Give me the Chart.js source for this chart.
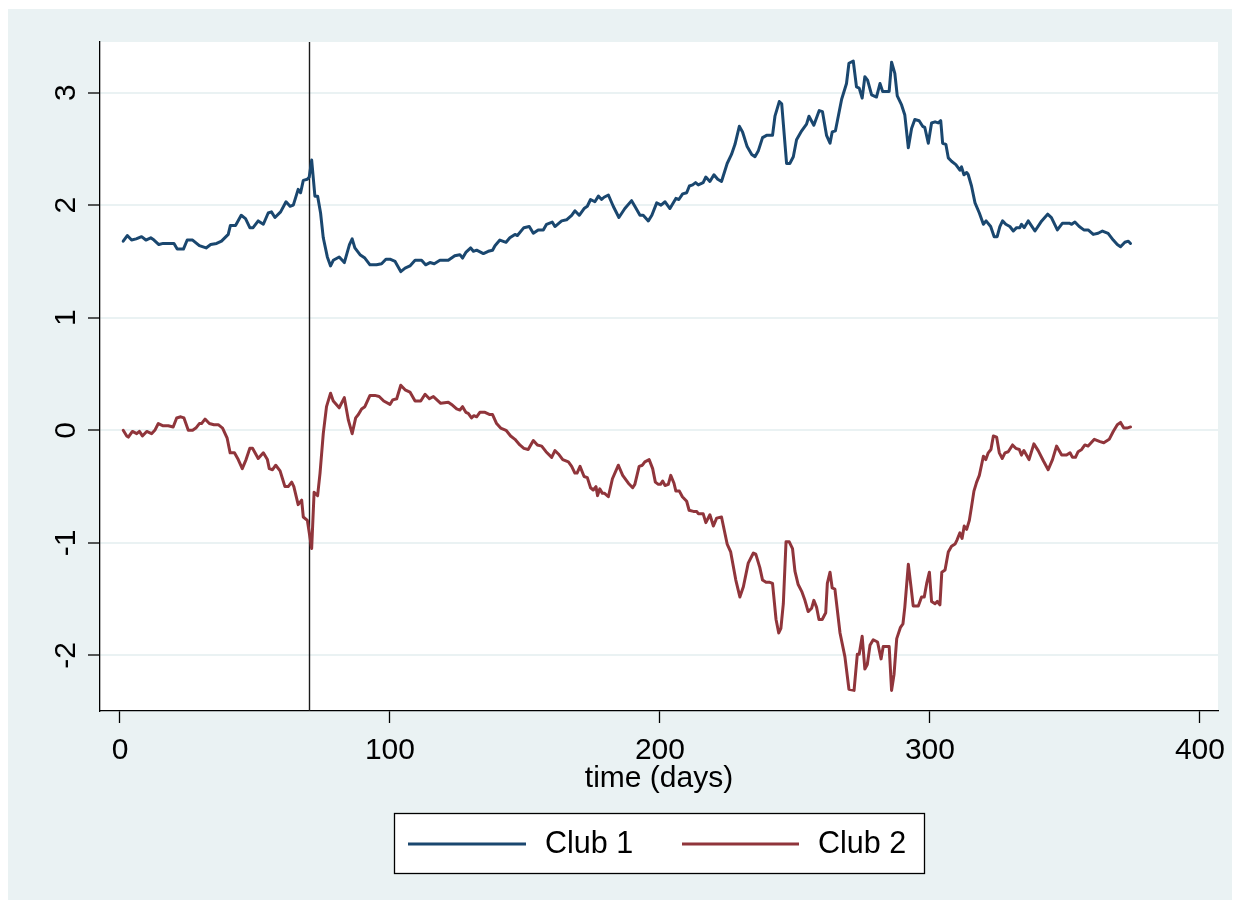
<!DOCTYPE html>
<html><head><meta charset="utf-8">
<script src="https://cdn.jsdelivr.net/npm/chart.js@4.4.1/dist/chart.umd.min.js"></script>
<style>html,body{margin:0;padding:0;background:#fff;}canvas{display:block;}</style>
</head><body>
<canvas id="c" width="1240" height="909"></canvas>
<script>
const seriesNames = ['Club 1', 'Club 2'];
const xTitle = 'time (days)';
const xTickValues = [0, 100, 200, 300, 400];
const yTickValues = [-2, -1, 0, 1, 2, 3];
const markerDay = 70;

const club1Days = [1.2,2.7,4.3,6,8,9.6,11.4,12.6,14.4,16,17.9,20,21.2,23.5,24.9,26.9,29.4,31.9,33.6,35.8,37.6,40.1,40.9,42.8,44.9,46.5,48.1,49.3,51.2,53.1,54.9,56.1,57.4,59.5,61.5,63,64.2,66,66.9,67.9,69.4,70.1,71,72.2,73.2,74.3,75.3,76.8,78,79,81.2,83.1,85,86,87,88.9,90.7,92.6,95,96.9,98.5,100,101.9,104,105.6,107.4,109.3,111.7,113.2,114.8,116.4,118.5,121.6,124,125.9,126.9,128.1,129.9,130.9,132.1,134.6,136.4,138,138.9,140.7,143,144.4,146.3,147.2,149.6,151.6,153.1,154.9,156.8,158,160.1,161.1,163.6,165.4,167.3,168.5,170.1,171.9,173.1,174.3,175.9,177.2,178.4,179.3,180.9,182.7,184.8,187,189.5,190.7,192.6,193.8,195.7,197,198.8,200.4,201.9,203.7,205.9,207,208.4,209.9,210.9,212.1,213.2,214.2,216,217,218.5,220,221.4,222.8,224.9,226.5,227.8,229.4,230.6,232.3,234,235.2,236.4,238,239.5,241.7,242.6,244.2,245.1,246.9,248.1,249.4,250.6,252.5,254.3,255.2,257,259,260.2,261.7,263,263.8,265,267.3,269.1,270,271.6,272.8,273.8,274.9,275.9,276.9,278.4,280.2,281.5,282.5,284.9,285.8,287,287.9,289.5,290.7,292,293.2,294.4,296,297.3,298.1,299.4,300.6,301.9,303.1,304,304.7,305.9,306.8,308,309.6,311.1,311.7,312.6,313.6,314.2,315.4,316.7,318.3,319.8,320.8,322.5,323.8,324.9,325.9,326.9,328.1,329.6,330.9,332.1,333.3,333.9,334.9,336.4,338.9,341.4,343.6,345,347.2,349.1,351.6,352.5,353.7,355.3,357,358.6,360.5,362.3,363.9,366,367.9,369.4,370.6,372.2,373.5,374.3];
const club1Values = [1.68,1.73,1.69,1.70,1.72,1.69,1.71,1.69,1.65,1.66,1.66,1.66,1.61,1.61,1.69,1.69,1.64,1.62,1.65,1.66,1.68,1.74,1.82,1.82,1.91,1.88,1.80,1.80,1.86,1.83,1.93,1.94,1.89,1.94,2.03,1.99,2.00,2.14,2.11,2.22,2.23,2.25,2.40,2.08,2.08,1.93,1.71,1.54,1.46,1.51,1.54,1.49,1.65,1.70,1.62,1.56,1.53,1.47,1.47,1.48,1.52,1.52,1.50,1.41,1.44,1.46,1.51,1.51,1.47,1.49,1.48,1.51,1.51,1.55,1.56,1.53,1.58,1.62,1.59,1.60,1.57,1.59,1.60,1.64,1.69,1.67,1.71,1.74,1.73,1.80,1.81,1.75,1.78,1.78,1.83,1.85,1.81,1.86,1.87,1.91,1.95,1.91,1.97,1.99,2.05,2.03,2.08,2.05,2.07,2.09,1.99,1.89,1.97,2.04,1.99,1.91,1.91,1.86,1.91,2.02,2.00,2.03,1.97,2.06,2.05,2.10,2.11,2.17,2.18,2.20,2.18,2.20,2.25,2.21,2.27,2.23,2.21,2.37,2.45,2.54,2.70,2.65,2.52,2.45,2.43,2.48,2.60,2.62,2.62,2.79,2.92,2.90,2.37,2.37,2.43,2.58,2.66,2.72,2.79,2.71,2.84,2.83,2.62,2.55,2.65,2.66,2.94,3.08,3.26,3.28,3.05,3.04,2.95,3.14,3.11,2.98,2.96,3.08,3.01,3.01,3.27,3.17,2.97,2.89,2.80,2.51,2.68,2.76,2.75,2.70,2.69,2.55,2.73,2.74,2.73,2.75,2.55,2.54,2.42,2.39,2.36,2.31,2.34,2.27,2.29,2.27,2.17,2.02,1.93,1.83,1.86,1.81,1.72,1.72,1.81,1.86,1.83,1.81,1.77,1.80,1.80,1.83,1.80,1.86,1.77,1.86,1.92,1.89,1.78,1.84,1.84,1.83,1.85,1.81,1.78,1.78,1.74,1.75,1.77,1.75,1.69,1.65,1.63,1.67,1.68,1.66];

const club2Days = [1.2,2.5,3.1,4.6,6.2,7.2,8.3,9.9,11.7,12.9,14.2,16,17.9,19.7,21,22.5,23.7,25.3,26.9,28.1,29.4,30.2,31.5,33.1,34.8,36.4,38,39.7,40.8,42.4,43.8,45.3,46.7,48.1,49.1,51.2,53.1,54.6,55.3,56.5,57.7,59.3,60.2,61.1,62.3,63.6,64.4,65.4,66,67.3,67.9,69.4,71,71.9,73.2,74.1,75.3,76.5,78,79,81.2,83.1,84.6,86,87.3,88.3,89.5,90.7,92.6,94.4,96,97.7,100,101,102.5,104,105.6,107.4,109.3,111.4,113,114.6,116.1,118.8,121.6,122.8,124.7,125.9,126.9,128.1,129,130.2,131.1,132.1,133.3,135.2,137,138,139.5,141,143,144.7,146.3,148.1,149.6,151.2,153.1,154.6,156.2,157.8,159.9,161.1,162.4,164,166.1,167.3,168.5,169.3,170.4,171.9,173.1,174.3,175.3,176.3,176.9,177.7,178.7,179.5,180.9,182.4,184.6,186.2,188.3,189.9,190.7,192.3,193.5,194.4,196,197.3,198.3,199.4,200.2,201,201.9,203.1,204,205.2,205.9,207.2,208.3,209.9,210.8,212.4,213.6,214.2,216,217,218.5,219.8,221,222.8,224.9,226.2,228.1,229.6,230.9,232.7,234.6,235.5,237,238,239.3,240.7,241.7,243,244,244.8,245.7,246.7,247.9,249.1,250,251.2,252.5,253.7,254.9,256.2,257,258,258.9,260.1,261.4,262,263,263.8,264.8,266.7,268.5,270,271.9,273.1,273.8,274.9,275.9,276.8,277.8,279,280.6,281.9,282.7,284.9,285.8,286.7,287.7,289.1,290,290.7,292,293,293.8,295.7,296.9,297.9,298.8,299.8,300.6,301.9,302.7,303.7,304.4,305.6,306.8,308,309.3,310.1,311.1,311.9,312.7,313.6,314.6,315.4,316.3,317.3,318.3,319.1,319.8,320.7,321.6,322.6,323.5,324.7,325.7,326.8,327.8,329,330.6,331.8,333.1,333.9,334.8,336.7,338.5,340.1,342,343.8,345.4,346.9,348.8,350.6,351.9,352.8,353.9,354.9,356.2,357.4,358.6,360.9,363,364.4,366.4,367.9,369.4,370.6,371.8,373,374.3];
const club2Values = [0.00,-0.05,-0.06,-0.01,-0.03,-0.01,-0.05,-0.01,-0.03,0.00,0.06,0.04,0.04,0.03,0.11,0.12,0.11,0.00,0.00,0.02,0.06,0.06,0.10,0.06,0.05,0.05,0.02,-0.07,-0.20,-0.20,-0.26,-0.34,-0.26,-0.16,-0.16,-0.25,-0.20,-0.26,-0.34,-0.35,-0.31,-0.36,-0.43,-0.50,-0.50,-0.46,-0.50,-0.60,-0.66,-0.62,-0.77,-0.80,-1.05,-0.55,-0.58,-0.38,-0.03,0.21,0.33,0.26,0.20,0.29,0.09,-0.03,0.11,0.14,0.19,0.21,0.31,0.31,0.30,0.26,0.23,0.27,0.28,0.40,0.36,0.34,0.26,0.26,0.32,0.28,0.30,0.24,0.25,0.23,0.19,0.18,0.21,0.16,0.15,0.11,0.13,0.12,0.16,0.16,0.14,0.14,0.06,0.02,0.00,-0.05,-0.08,-0.13,-0.16,-0.17,-0.09,-0.13,-0.14,-0.19,-0.24,-0.18,-0.21,-0.26,-0.28,-0.32,-0.38,-0.38,-0.32,-0.41,-0.42,-0.51,-0.53,-0.50,-0.58,-0.52,-0.56,-0.56,-0.59,-0.43,-0.31,-0.40,-0.47,-0.51,-0.48,-0.32,-0.31,-0.28,-0.26,-0.34,-0.46,-0.48,-0.48,-0.45,-0.49,-0.48,-0.40,-0.47,-0.54,-0.54,-0.59,-0.63,-0.71,-0.72,-0.72,-0.74,-0.74,-0.82,-0.75,-0.85,-0.78,-0.77,-1.01,-1.08,-1.33,-1.48,-1.39,-1.18,-1.09,-1.10,-1.22,-1.33,-1.35,-1.35,-1.36,-1.68,-1.80,-1.76,-1.54,-0.99,-0.99,-1.05,-1.25,-1.37,-1.43,-1.51,-1.61,-1.58,-1.51,-1.57,-1.68,-1.68,-1.62,-1.36,-1.26,-1.40,-1.41,-1.80,-2.01,-2.30,-2.31,-1.99,-1.99,-1.83,-2.12,-2.08,-1.91,-1.86,-1.88,-2.03,-1.92,-1.92,-2.31,-2.17,-1.85,-1.75,-1.72,-1.57,-1.19,-1.39,-1.56,-1.56,-1.48,-1.48,-1.36,-1.26,-1.52,-1.54,-1.52,-1.55,-1.26,-1.24,-1.08,-1.03,-1.01,-0.97,-0.91,-0.96,-0.85,-0.88,-0.80,-0.68,-0.54,-0.46,-0.40,-0.31,-0.23,-0.26,-0.20,-0.17,-0.05,-0.06,-0.20,-0.25,-0.20,-0.19,-0.13,-0.16,-0.17,-0.22,-0.18,-0.26,-0.12,-0.18,-0.27,-0.35,-0.26,-0.14,-0.22,-0.22,-0.20,-0.24,-0.24,-0.19,-0.17,-0.13,-0.14,-0.08,-0.10,-0.11,-0.08,-0.01,0.05,0.07,0.02,0.02,0.03];

const seriesColors = ['#1A476F', '#90353B'];
const FONT = '"Liberation Sans", Arial, Helvetica, sans-serif';
Chart.defaults.font.family = FONT;
Chart.defaults.color = '#000';

function toPoints(days, vals) { return days.map((d, i) => ({ x: d, y: vals[i] })); }

const framePlugin = {
  id: 'frame',
  beforeDraw(chart) {
    const { ctx, chartArea: a } = chart;
    ctx.save();
    ctx.fillStyle = '#ffffff';
    ctx.fillRect(0, 0, chart.width, chart.height);
    ctx.fillStyle = '#EAF2F3';
    ctx.fillRect(8, 9, 1224, 891);
    ctx.fillStyle = '#ffffff';
    ctx.fillRect(a.left, a.top, a.right - a.left, a.bottom - a.top);
    ctx.restore();
  },
  beforeDatasetsDraw(chart) {
    const { ctx, chartArea: a } = chart;
    const x = Math.round(chart.scales.x.getPixelForValue(markerDay)) + 0.5;
    ctx.save();
    ctx.strokeStyle = '#1a1a1a';
    ctx.lineWidth = 1.4;
    ctx.beginPath();
    ctx.moveTo(x, a.top);
    ctx.lineTo(x, a.bottom);
    ctx.stroke();
    ctx.restore();
  },
  afterDraw(chart) {
    const ctx = chart.ctx;
    ctx.save();
    ctx.fillStyle = '#ffffff';
    ctx.fillRect(394, 813, 530, 60);
    ctx.strokeStyle = '#000';
    ctx.lineWidth = 1.3;
    ctx.strokeRect(394.5, 813.5, 530, 60);
    const items = [
      { x0: 408, x1: 526, tx: 545 },
      { x0: 682, x1: 799, tx: 818 }
    ];
    ctx.font = '30.5px ' + FONT;
    ctx.textBaseline = 'middle';
    ctx.textAlign = 'left';
    items.forEach((it, i) => {
      ctx.strokeStyle = seriesColors[i];
      ctx.lineWidth = 3;
      ctx.beginPath();
      ctx.moveTo(it.x0, 844);
      ctx.lineTo(it.x1, 844);
      ctx.stroke();
      ctx.fillStyle = '#000';
      ctx.fillText(seriesNames[i], it.tx, 845);
    });
    ctx.restore();
  }
};

new Chart(document.getElementById('c'), {
  type: 'line',
  data: {
    datasets: [
      { label: seriesNames[0], data: toPoints(club1Days, club1Values), borderColor: seriesColors[0], borderWidth: 3, borderJoinStyle: 'round', borderCapStyle: 'round', pointRadius: 0, tension: 0, fill: false },
      { label: seriesNames[1], data: toPoints(club2Days, club2Values), borderColor: seriesColors[1], borderWidth: 3, borderJoinStyle: 'round', borderCapStyle: 'round', pointRadius: 0, tension: 0, fill: false }
    ]
  },
  options: {
    responsive: false,
    animation: false,
    devicePixelRatio: 1,
    layout: { padding: { left: 0, right: 22, top: 42, bottom: 0 } },
    plugins: { legend: { display: false }, tooltip: { enabled: false } },
    scales: {
      x: {
        type: 'linear', min: -7.4, max: 406.7,
        afterBuildTicks(s) { s.ticks = xTickValues.map(v => ({ value: v })); },
        afterFit(s) { s.height = 198; },
        grid: { drawOnChartArea: false, tickColor: '#000', tickWidth: 1.3, tickLength: 12 },
        border: { display: true, color: '#000', width: 1.3 },
        ticks: { font: { size: 30 }, color: '#000', padding: 10, minRotation: 0, maxRotation: 0 },
        title: { display: true, text: xTitle, font: { size: 30 }, color: '#000', padding: { top: 0, bottom: 112 } }
      },
      y: {
        type: 'linear', min: -2.493, max: 3.449,
        afterBuildTicks(s) { s.ticks = yTickValues.map(v => ({ value: v })); },
        afterFit(s) { s.width = 100; },
        grid: { color: '#EAF2F3', lineWidth: 2, tickColor: '#000', tickWidth: 1.3, tickLength: 12 },
        border: { display: true, color: '#000', width: 1.3 },
        ticks: { font: { size: 30 }, color: '#000', minRotation: 90, maxRotation: 90, crossAlign: 'center', padding: 8 }
      }
    }
  },
  plugins: [framePlugin]
});
</script>
</body></html>
